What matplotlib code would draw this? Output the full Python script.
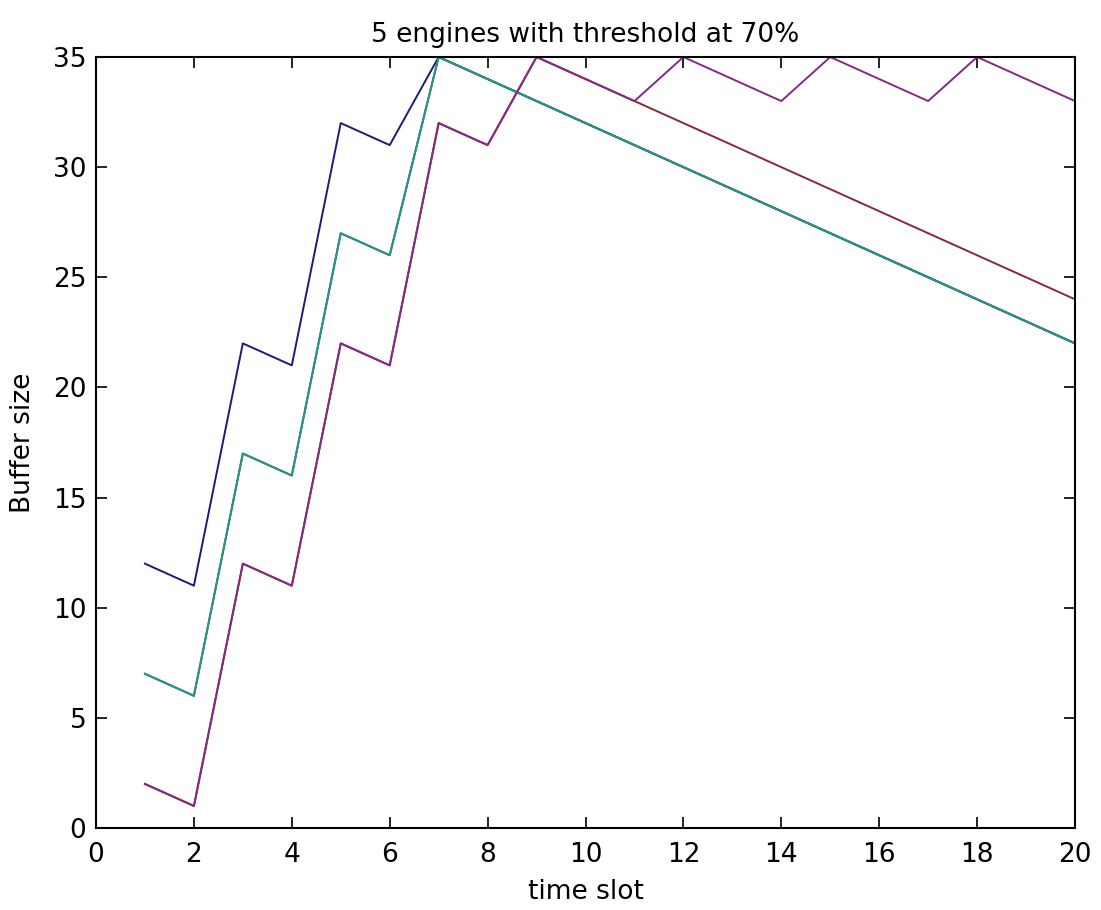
import matplotlib.pyplot as plt

# time slots and buffer sizes of the 5 engines
slots = list(range(1, 21))
engine1 = [12, 11, 22, 21, 32, 31, 35, 34, 33, 32, 31, 30, 29, 28, 27, 26, 25, 24, 23, 22]
engine2 = [7, 6, 17, 16, 27, 26, 35, 34, 33, 32, 31, 30, 29, 28, 27, 26, 25, 24, 23, 22]
engine3 = [2, 1, 12, 11, 22, 21, 32, 31, 35, 34, 33, 32, 31, 30, 29, 28, 27, 26, 25, 24]
engine4 = [7, 6, 17, 16, 27, 26, 35, 34, 33, 32, 31, 30, 29, 28, 27, 26, 25, 24, 23, 22]
engine5 = [2, 1, 12, 11, 22, 21, 32, 31, 35, 34, 33, 35, 34, 33, 35, 34, 33, 35, 34, 33]

series = [engine1, engine2, engine3, engine4, engine5]
colors = ['#1c1c78', '#1a6a1a', '#8a2838', '#2a9090', '#842a84']

plt.rcParams['font.family'] = ['DejaVu Sans']

fig = plt.figure(figsize=(11.01, 9.10), dpi=100)
ax = fig.add_axes([96 / 1101, 1 - 828 / 910, (1075 - 96) / 1101, (828 - 57) / 910])

for s, c in zip(series, colors):
    ax.plot(slots, s, color=c, linewidth=1.4)

ax.set_xlim(0, 20)
ax.set_ylim(0, 35)
ax.set_xticks(range(0, 21, 2))
ax.set_yticks(range(0, 36, 5))
ax.tick_params(direction='in', length=8, width=1.2, top=True, right=True,
               labelsize=19)
ax.tick_params(axis='x', pad=10)
ax.tick_params(axis='y', pad=7)
for sp in ax.spines.values():
    sp.set_linewidth(1.5)

ax.set_title('5 engines with threshold at 70%', fontsize=19, pad=11)
ax.set_xlabel('time slot', fontsize=19, labelpad=8)
ax.set_ylabel('Buffer size', fontsize=19, labelpad=12)

fig.savefig('out.png', dpi=100)
